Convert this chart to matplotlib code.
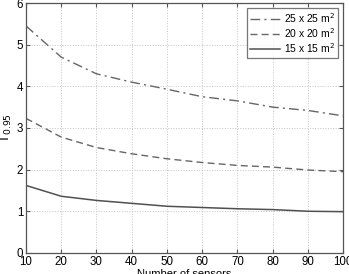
import matplotlib
matplotlib.use("Agg")
import matplotlib.pyplot as plt

plt.rcParams['font.family'] = ['Liberation Sans', 'DejaVu Sans']

sensors = [10, 20, 30, 40, 50, 60, 70, 80, 90, 100]
t25 = [5.45, 4.70, 4.30, 4.10, 3.93, 3.75, 3.65, 3.50, 3.42, 3.29]
t20 = [3.23, 2.78, 2.53, 2.38, 2.26, 2.17, 2.10, 2.06, 1.99, 1.95]
t15 = [1.62, 1.36, 1.26, 1.19, 1.12, 1.09, 1.06, 1.04, 1.00, 0.99]
labels = ['25 x 25 m$^2$', '20 x 20 m$^2$', '15 x 15 m$^2$']

fig = plt.figure(figsize=(3.49, 2.74), dpi=100)
ax = fig.add_axes([0.0745, 0.077, 0.909, 0.912])

ax.plot(sensors, t25, color='#666666', lw=1.0, ls=(0, (7, 3, 1.5, 3)), label=labels[0])
ax.plot(sensors, t20, color='#666666', lw=1.0, ls=(0, (5, 3)), label=labels[1])
ax.plot(sensors, t15, color='#505050', lw=1.1, ls='-', label=labels[2])

ax.set_xlim(10, 100)
ax.set_ylim(0, 6)
ax.set_xticks(sensors)
ax.set_yticks(range(7))
ax.grid(True, ls=':', color='#c4c4c4', lw=0.7)
ax.tick_params(labelsize=8.3, direction='in', length=3, color='#555555', pad=2,
               top=True, right=True)
for s in ax.spines.values():
    s.set_color('#555555')
    s.set_linewidth(0.9)

ax.set_xlabel('Number of sensors', fontsize=8, labelpad=1)
ax.set_ylabel('T$_{0.95}$', fontsize=9.5, labelpad=2)

leg = ax.legend(loc='upper right', fontsize=7.4, frameon=True, fancybox=False,
                edgecolor='#555555', handlelength=3.0, borderaxespad=0.5,
                labelspacing=0.1, handletextpad=0.35, borderpad=0.3)
leg.get_frame().set_linewidth(0.9)

fig.savefig('out.png', dpi=100)
